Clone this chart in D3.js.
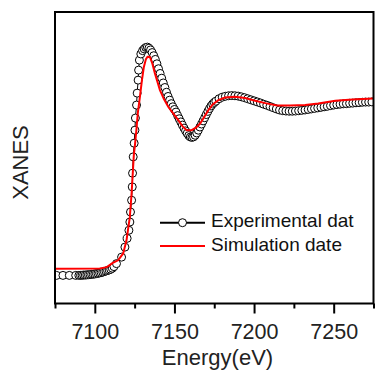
<!DOCTYPE html>
<html><head><meta charset="utf-8">
<script src="https://cdn.jsdelivr.net/npm/d3@7"></script>
<style>body{margin:0;background:#fff} svg{display:block}</style>
</head><body><svg id="c" width="379" height="381"></svg>
<script>
// ---- data ----
const expEnergy = [7076,7080,7084,7088,
  7090,7091,7092,7093,7094,7095,7096,7097,7098,7099,7100,7101,7102,7103,7104,7105,7106,7107,7108,7109,7110,7111,7112,
  7113.6,7116.8,7118.9,7120.3,7121.4,7122.0,7122.4,7123.1,7123.5,7123.7,7124.1,7124.7,7125.2,7125.5,7126.2,7126.6,7127.2,7127.5,7128.0,7128.9,
  7130,7131,7132,7133,7134,7135,7136,7137,7138,7139,7140,7141,7142,7143,7144,7145,7146,7147,7148,7149,7150,
  7151,7152,7153,7154,7155,7156,7157,7158,7159,7160,7161,7162,7163,7164,7165,7166,7167,7168,7169,7170,
  7171,7172,7173,7174,7175,7176,7178,7180,7182,7184,7186,7188,7190,7192,7194,7196,7198,7200,
  7202,7204,7206,7208,7210,7212,7214,7216,7218,7220,7222,7224,7226,7228,7230,7232,7234,7236,7238,7240,
  7242,7244,7246,7248,7250,7252,7254,7256,7258,7260,7262,7264,7266,7268,7270,7272,7274];
const expXanes = [0,0,0,0,
  0.000,0.000,0.001,0.002,0.002,0.003,0.004,0.005,0.006,0.007,0.008,0.010,0.012,0.014,0.016,0.019,0.022,0.025,0.028,0.031,0.035,0.041,0.050,
  0.067,0.104,0.161,0.211,0.257,0.304,0.361,0.428,0.504,0.582,0.675,0.753,0.827,0.896,0.970,1.038,1.112,1.169,1.226,1.261,
  1.280,1.290,1.298,1.300,1.294,1.284,1.269,1.251,1.230,1.205,1.177,1.150,1.123,1.096,1.070,1.043,1.019,0.998,0.978,0.960,0.945,
  0.930,0.910,0.892,0.874,0.856,0.839,0.823,0.809,0.796,0.788,0.786,0.789,0.798,0.811,0.827,0.845,0.862,0.880,0.898,0.916,
  0.934,0.950,0.965,0.976,0.985,0.992,1.006,1.015,1.020,1.023,1.024,1.023,1.021,1.017,1.012,1.006,1.000,0.994,
  0.988,0.982,0.975,0.969,0.962,0.955,0.948,0.942,0.938,0.936,0.935,0.935,0.936,0.938,0.940,0.942,0.945,0.948,0.951,0.954,
  0.957,0.960,0.963,0.967,0.970,0.973,0.975,0.977,0.978,0.980,0.981,0.983,0.984,0.986,0.987,0.987,0.988];

const simEnergy = [7075,7103.1,7107.5,7111.3,7114.6,7117.8,7119.9,7122.0,7123.1,7124.5,7125.2,7126.1,7127.0,7128.3,7129.6,7130.8,7132.1,7133.1,
  7134.6,7136.2,7137.7,7140.9,7143.4,7146.1,7149.1,7152.4,7155.0,7157.7,7160.8,7163.5,7166.1,7168.6,7171.3,7174.2,7177.6,
  7181.8,7188.1,7194.4,7200.7,7207.0,7214.5,7222.7,7232.1,7240.3,7251.0,7261.7,7275];
const simXanes = [0.038,0.040,0.047,0.071,0.086,0.125,0.200,0.333,0.468,0.685,0.742,0.827,0.924,1.015,1.112,1.187,1.232,1.245,
  1.244,1.204,1.152,1.055,1.004,0.960,0.924,0.884,0.850,0.827,0.827,0.841,0.865,0.901,0.941,0.975,0.998,
  1.013,1.018,1.010,0.995,0.981,0.967,0.967,0.970,0.979,0.994,1.002,1.008];

const xMajorTicks = [7100,7150,7200,7250];
const xMinorTicks = [7075,7125,7175,7225,7275];
const legendLabels = ["Experimental dat","Simulation date"];
const xTitle = "Energy(eV)";
const yTitle = "XANES";

// ---- layout ----
const font = "'Liberation Sans', Arial, sans-serif";
const L = 55, R = 373.5, T = 12, B = 303.5;
const svg = d3.select("#c");
const x = d3.scaleLinear().domain([7075,7275]).range([L,R]);
const y = d3.scaleLinear().domain([-0.16,1.5]).range([B,T]);

svg.append("defs").append("clipPath").attr("id","clip")
  .append("rect").attr("x",L).attr("y",T).attr("width",R-L).attr("height",B-T);

const expData = expEnergy.map((e,i)=>({e, v: expXanes[i]}));
const simData = simEnergy.map((e,i)=>({e, v: simXanes[i]}));
const line = d3.line().x(d=>x(d.e)).y(d=>y(d.v));

const g = svg.append("g").attr("clip-path","url(#clip)");
g.append("path").datum(expData).attr("d",line)
  .attr("fill","none").attr("stroke","#000").attr("stroke-width",1);
g.selectAll("circle").data(expData).join("circle")
  .attr("cx",d=>x(d.e)).attr("cy",d=>y(d.v)).attr("r",4)
  .attr("fill","#fff").attr("stroke","#000").attr("stroke-width",1);
g.append("path").datum(simData).attr("d",line)
  .attr("fill","none").attr("stroke","#ff0000").attr("stroke-width",2);

// axes
const ax = svg.append("g").attr("transform",`translate(0,${B})`)
  .call(d3.axisBottom(x).tickValues(xMajorTicks).tickSize(10).tickSizeOuter(0).tickFormat(d3.format("d")));
ax.select(".domain").remove();
ax.selectAll(".tick line").attr("stroke","#000").attr("stroke-width",2);
ax.selectAll(".tick text").attr("y",35).attr("dy",null)
  .attr("font-family",font).attr("font-size",21.5).attr("fill","#222");
const axm = svg.append("g").attr("transform",`translate(0,${B})`)
  .call(d3.axisBottom(x).tickValues(xMinorTicks).tickSize(5).tickSizeOuter(0).tickFormat(""));
axm.select(".domain").remove();
axm.selectAll(".tick line").attr("stroke","#000").attr("stroke-width",2);

// frame
svg.append("rect").attr("x",L).attr("y",T).attr("width",R-L).attr("height",B-T)
  .attr("fill","none").attr("stroke","#000").attr("stroke-width",2);

// titles
svg.append("text").attr("x",217.5).attr("y",365).attr("text-anchor","middle")
  .attr("font-family",font).attr("font-size",22).attr("fill","#222").text(xTitle);
svg.append("text").attr("transform","translate(28.3,162.5) rotate(-90)").attr("text-anchor","middle")
  .attr("font-family",font).attr("font-size",22).attr("fill","#222").text(yTitle);

// legend
const lg = svg.append("g");
lg.append("line").attr("x1",160).attr("x2",205).attr("y1",222.7).attr("y2",222.7)
  .attr("stroke","#000").attr("stroke-width",2);
lg.append("circle").attr("cx",182.5).attr("cy",222.7).attr("r",4)
  .attr("fill","#fff").attr("stroke","#000").attr("stroke-width",1);
lg.append("line").attr("x1",160).attr("x2",205).attr("y1",246).attr("y2",246)
  .attr("stroke","#ff0000").attr("stroke-width",2);
lg.append("text").attr("x",211).attr("y",227.3).attr("font-family",font).attr("font-size",19)
  .attr("fill","#111").text(legendLabels[0]);
lg.append("text").attr("x",211).attr("y",251).attr("font-family",font).attr("font-size",19)
  .attr("fill","#111").text(legendLabels[1]);
</script></body></html>
